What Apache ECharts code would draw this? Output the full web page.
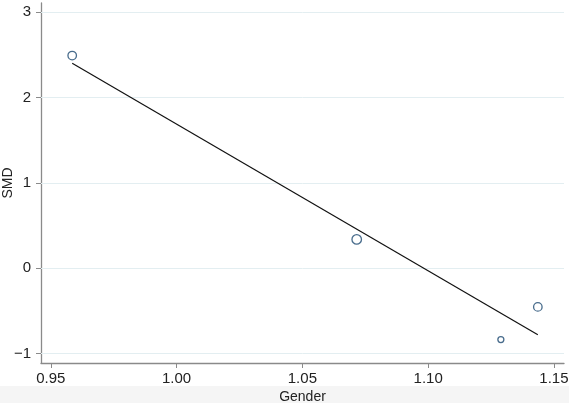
<!DOCTYPE html>
<html>
<head>
<meta charset="utf-8">
<script src="https://cdn.jsdelivr.net/npm/echarts@6/dist/echarts.min.js"></script>
<style>html,body{margin:0;padding:0;background:#fff}#c{width:569px;height:403px}</style>
</head>
<body>
<div id="c"></div>
<script>
// Data
const gender = [0.9585, 1.0716, 1.1289, 1.1436];
const smd = [2.49, 0.337, -0.836, -0.453];
const pointSize = [8.5, 9.5, 6, 8.5];
const fitX = [0.9585, 1.1436];
const fitY = [2.40, -0.78];
const xTicks = [0.95, 1.00, 1.05, 1.10, 1.15];
const yTicks = [-1, 0, 1, 2, 3];

const chart = echarts.init(document.getElementById('c'), null, {renderer: 'canvas'});
const font = 'Liberation Sans, Arial, Helvetica, sans-serif';
const axisColor = '#8a8a8a';
chart.setOption({
  animation: false,
  backgroundColor: '#ffffff',
  graphic: [{
    type: 'rect', left: 0, top: 386, z: -10,
    shape: {width: 569, height: 17},
    style: {fill: '#f5f5f5'}
  }],
  grid: {left: 41, right: 5, top: 3, bottom: 40, containLabel: false, outerBoundsMode: 'none'},
  xAxis: {
    type: 'value', min: 0.9461, max: 1.154,
    name: 'Gender', nameLocation: 'middle', nameGap: 27, nameMoveOverlap: false,
    nameTextStyle: {fontFamily: font, fontSize: 14, color: '#222'},
    axisLine: {show: true, onZero: false, lineStyle: {color: axisColor, width: 1.3}},
    axisTick: {show: true, customValues: xTicks, length: 5, lineStyle: {color: axisColor}},
    axisLabel: {customValues: xTicks, margin: 8, fontFamily: font, fontSize: 15, color: '#222',
      formatter: v => v.toFixed(2)},
    splitLine: {show: false}
  },
  yAxis: {
    type: 'value', min: -1.11, max: 3.105,
    name: 'SMD', nameLocation: 'middle', nameGap: 26, nameRotate: 90, nameMoveOverlap: false,
    nameTextStyle: {fontFamily: font, fontSize: 14, color: '#222'},
    axisLine: {show: true, onZero: false, lineStyle: {color: axisColor, width: 1.3}},
    axisTick: {show: true, customValues: yTicks, length: 5, lineStyle: {color: axisColor}},
    axisLabel: {customValues: yTicks, margin: 10, fontFamily: font, fontSize: 15, color: '#222',
      formatter: v => String(v).replace('-', '\u2212')},
    splitLine: {show: false}
  },
  series: [
    {
      type: 'line', data: fitX.map((x, i) => [x, fitY[i]]),
      showSymbol: false, symbol: 'none',
      lineStyle: {color: '#111', width: 1.2},
      z: 3,
      markLine: {
        silent: true, symbol: 'none', label: {show: false},
        lineStyle: {color: '#e3eef1', width: 1, type: 'solid'},
        data: yTicks.map(v => ({yAxis: v})),
        z: 1
      }
    },
    {
      type: 'scatter',
      data: gender.map((x, i) => [x, smd[i], pointSize[i]]),
      symbol: 'circle',
      symbolSize: d => d[2],
      itemStyle: {color: 'rgba(255,255,255,0)', borderColor: '#1a476f', borderWidth: 1.3},
      z: 4
    }
  ]
});
</script>
</body>
</html>
